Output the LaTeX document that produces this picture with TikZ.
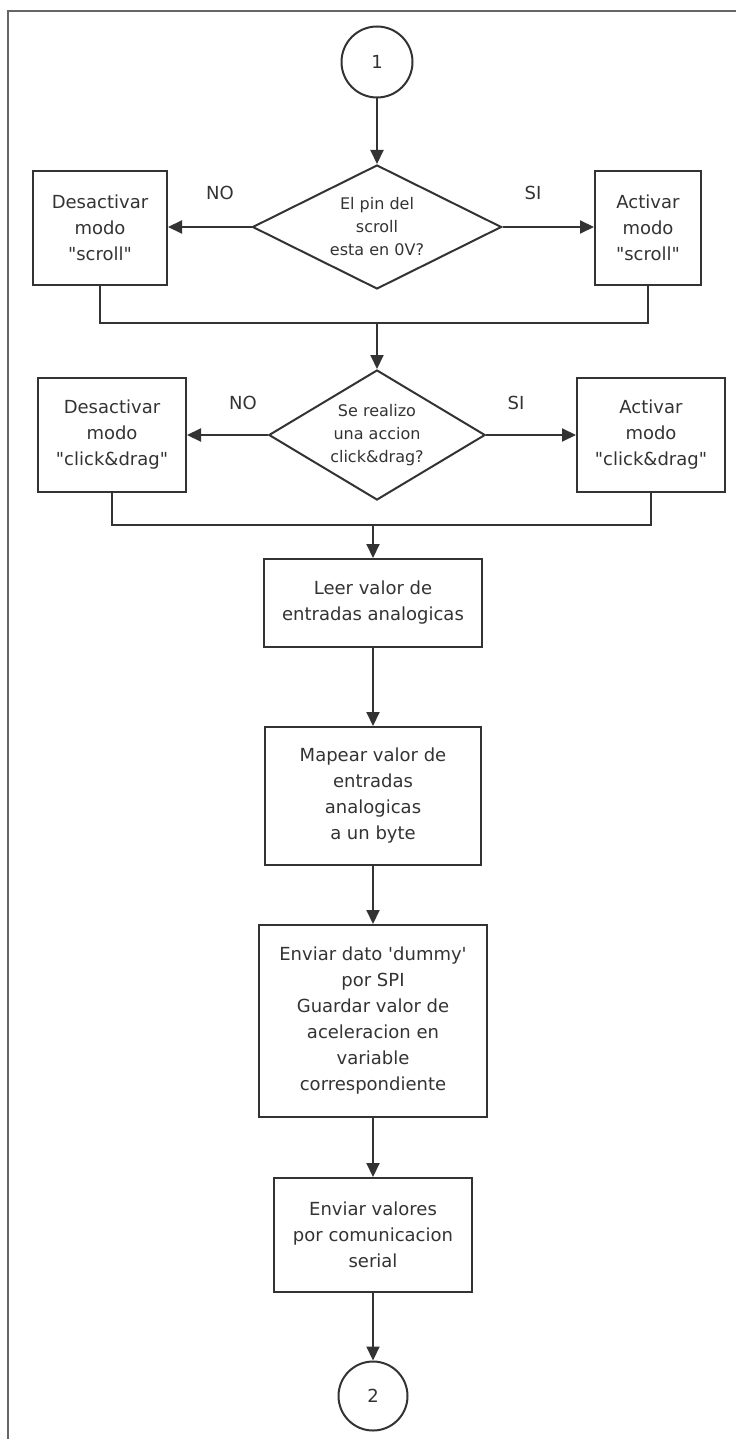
\documentclass[tikz,border=0pt]{standalone}
\usepackage{fontspec}
\setmainfont{DejaVu Sans}[Ligatures=TeXOff]
\usetikzlibrary{shapes.geometric,arrows.meta}

\begin{document}
\begin{tikzpicture}[x=1pt,y=-1pt,line width=2pt,color=black!80,
  proc/.style={draw,rectangle,align=center,inner sep=0pt,font=\fontsize{18}{26}\selectfont},
  test/.style={draw,diamond,aspect=2,inner sep=0pt,align=center,font=\fontsize{16}{23}\selectfont},
  conn/.style={draw,circle,inner sep=0pt,font=\fontsize{18}{22}\selectfont},
  flecha/.style={-{Triangle[length=14pt,width=13pt]}},
  lbl/.style={font=\fontsize{18}{22}\selectfont}]
\useasboundingbox (0,0) rectangle (736,1439);
\draw[line width=2.5pt,black!60] (8,1439) -- (8,11) -- (736,11);

\node[conn,minimum size=71pt] (c1) at (377,62) {1};
\node[test,minimum width=249pt,minimum height=124pt] (d1) at (377,227) {El pin del\\scroll\\esta en 0V?};
\node[proc,minimum width=134pt,minimum height=113pt] (b1l) at (100,228) {Desactivar\\modo\\"scroll"};
\node[proc,minimum width=106pt,minimum height=113pt] (b1r) at (648,228) {Activar\\modo\\"scroll"};
\node[lbl] (no1) at (220,193) {NO};
\node[lbl] (si1) at (533,193) {SI};

\node[test,minimum width=210pt,minimum height=130pt] (d2) at (377,435) {Se realizo\\una accion\\click\&drag?};
\node[proc,minimum width=148pt,minimum height=114pt] (b2l) at (112,435) {Desactivar\\modo\\"click\&drag"};
\node[proc,minimum width=148pt,minimum height=114pt] (b2r) at (651,435) {Activar\\modo\\"click\&drag"};
\node[lbl] (no2) at (243,403) {NO};
\node[lbl] (si2) at (516,403) {SI};

\node[proc,minimum width=218pt,minimum height=88pt] (lee) at (373,603) {Leer valor de\\entradas analogicas};
\node[proc,minimum width=216pt,minimum height=138pt] (map) at (373,796) {Mapear valor de\\entradas\\analogicas\\a un byte};
\node[proc,minimum width=228pt,minimum height=192pt] (spi) at (373,1021) {Enviar dato 'dummy'\\por SPI\\Guardar valor de\\aceleracion en\\variable\\correspondiente};
\node[proc,minimum width=198pt,minimum height=114pt] (ser) at (373,1235) {Enviar valores\\por comunicacion\\serial};
\node[conn,minimum size=69pt] (c2) at (373,1396) {2};

\coordinate (j1) at (377,323);
\coordinate (j2) at (373,525);

\draw[flecha] (c1) -- (d1.north);
\draw[flecha] (d1.west) -- (d1.west -| b1l.east);
\draw[flecha] (d1.east) -- (d1.east -| b1r.west);
\draw (b1l.south) |- (j1);
\draw (b1r.south) |- (j1);
\draw[flecha] (j1) -- (d2.north);
\draw[flecha] (d2.west) -- (d2.west -| b2l.east);
\draw[flecha] (d2.east) -- (d2.east -| b2r.west);
\draw (b2l.south) |- (j2);
\draw (b2r.south) |- (j2);
\draw[flecha] (j2) -- (lee.north);
\draw[flecha] (lee) -- (map);
\draw[flecha] (map) -- (spi);
\draw[flecha] (spi) -- (ser);
\draw[flecha] (ser) -- (c2);
\end{tikzpicture}
\end{document}
